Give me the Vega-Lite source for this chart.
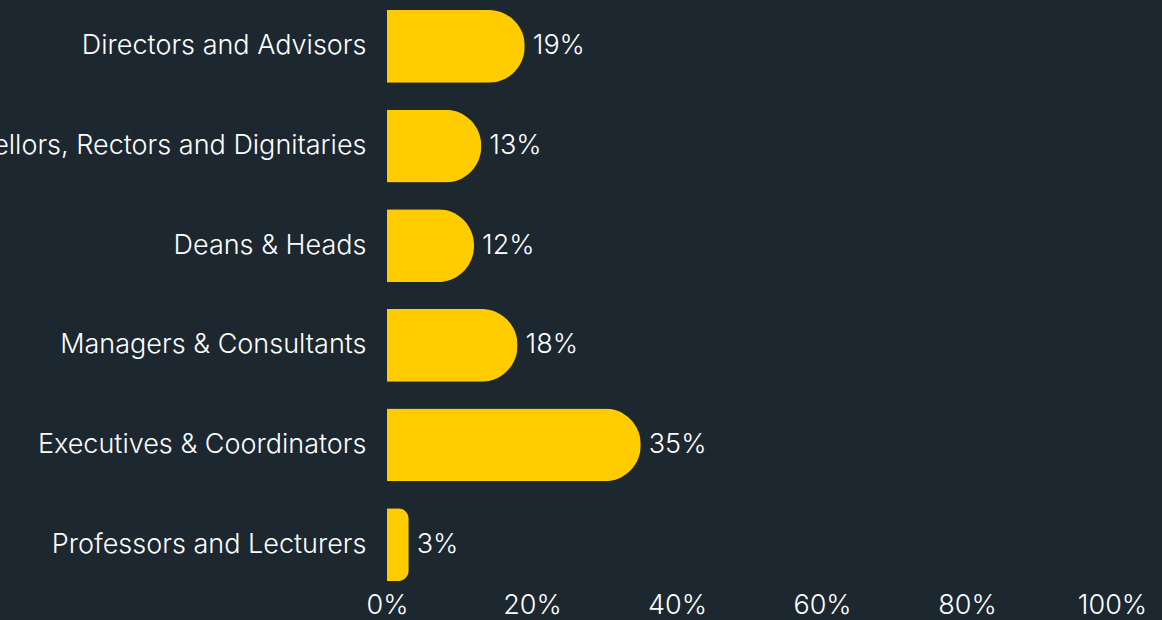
{
  "$schema": "https://vega.github.io/schema/vega-lite/v6.json",
  "autosize": {"type": "none"},
  "padding": {"left": 387, "top": 0, "right": 50, "bottom": 29},
  "width": 725,
  "height": 591,
  "background": "#1c2730",
  "config": {
    "view": {"stroke": null},
    "font": "Inter",
    "axis": {"labelFont": "Inter", "labelFontWeight": 300, "labelColor": "#ffffff", "labelFontSize": 27, "domain": false, "ticks": false, "grid": false, "title": null}
  },
  "data": {
    "values": [
      {"role": "Directors and Advisors", "pct": 19},
      {"role": "Vice-Chancellors, Rectors and Dignitaries", "pct": 13},
      {"role": "Deans & Heads", "pct": 12},
      {"role": "Managers & Consultants", "pct": 18},
      {"role": "Executives & Coordinators", "pct": 35},
      {"role": "Professors and Lecturers", "pct": 3}
    ]
  },
  "encoding": {
    "y": {
      "field": "role", "type": "nominal", "sort": null,
      "scale": {"paddingInner": 0.27, "paddingOuter": 0.1},
      "axis": {"labelPadding": 21, "labelLimit": 1000}
    },
    "x": {
      "field": "pct", "type": "quantitative",
      "scale": {"domain": [0, 100], "nice": false},
      "axis": {"values": [0, 20, 40, 60, 80, 100], "labelExpr": "datum.value + '%'", "labelPadding": 1, "labelFlush": false}
    }
  },
  "layer": [
    {"mark": {"type": "bar", "color": "#ffcc00", "cornerRadiusEnd": 36}},
    {
      "mark": {"type": "text", "align": "left", "baseline": "middle", "dx": 8, "fontSize": 27, "fontWeight": 300, "font": "Inter", "color": "#ffffff", "text": {"expr": "datum.pct + '%'"}}
    }
  ]
}
